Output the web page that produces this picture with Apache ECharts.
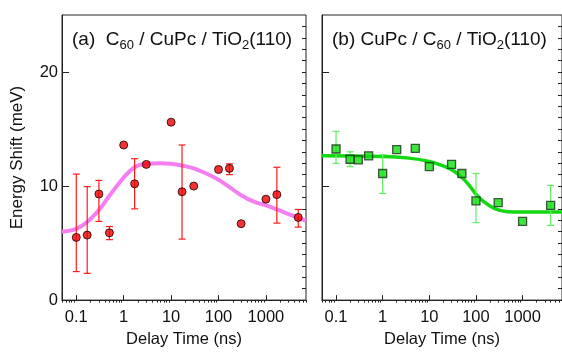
<!DOCTYPE html>
<html>
<head>
<meta charset="utf-8">
<script src="https://cdn.jsdelivr.net/npm/echarts@6/dist/echarts.min.js"></script>
<style>
  html, body { margin: 0; padding: 0; background: #fff; }
  #chart { width: 562px; height: 353px; }
</style>
</head>
<body>
<div id="chart"></div>
<script>
// panel (a): C60 / CuPc / TiO2(110)
const timeA  = [0.1, 0.17, 0.3, 0.5, 1, 1.7, 3, 10, 17, 30, 100, 170, 300, 1000, 1700, 4800];
const shiftA = [5.5, 5.7, 9.3, 5.9, 13.6, 10.2, 11.9, 15.6, 9.5, 10.0, 11.45, 11.55, 6.7, 8.85, 9.25, 7.25];
const errLoA = [2.5, 2.35, 6.9, 5.3, null, 8.0, null, null, 5.35, null, null, 11.0, null, null, 6.75, 6.4];
const errHiA = [11.05, 9.95, 10.5, 6.45, null, 12.4, null, null, 13.6, null, null, 11.95, null, null, 11.65, 7.95];
const fitTimeA = [0.05, 0.1, 0.17, 0.3, 0.5, 1, 1.7, 3, 5.7, 10, 17, 30, 55, 100, 170, 300, 540, 1000, 1700, 3200, 5300, 7000];
const fitA     = [6.0, 6.25, 6.85, 7.9, 9.15, 10.75, 11.65, 11.95, 12.0, 11.95, 11.8, 11.55, 11.1, 10.55, 9.9, 9.2, 8.65, 8.3, 7.95, 7.5, 7.15, 6.95];

// panel (b): CuPc / C60 / TiO2(110)
const timeB  = [0.1, 0.2, 0.3, 0.5, 1, 2, 5, 10, 30, 50, 100, 300, 1000, 4000];
const shiftB = [13.25, 12.35, 12.3, 12.65, 11.1, 13.2, 13.3, 11.7, 11.9, 11.1, 8.7, 8.55, 6.9, 8.3];
const errLoB = [12.0, 11.7, null, null, 9.35, null, null, null, null, null, 6.8, null, null, 6.55];
const errHiB = [14.8, 13.0, null, null, 12.75, null, null, null, null, null, 11.1, null, null, 10.05];
const fitTimeB = [0.05, 1, 3.7, 10, 19, 31, 50, 69, 100, 150, 245, 470, 1000, 7000];
const fitB     = [12.65, 12.6, 12.45, 12.15, 11.8, 11.4, 10.75, 10.15, 9.3, 8.6, 8.05, 7.75, 7.72, 7.72];

const xTickLabels = [0.1, 1, 10, 100, 1000];
const yTickLabels = [0, 10, 20];

const minorX = [];
[0.01, 0.1, 1, 10, 100, 1000].forEach(d => {
  for (let k = 2; k <= 9; k++) {
    const v = +(k * d).toPrecision(3);
    if (v >= 0.05 && v <= 7000) minorX.push(v);
  }
});
const minorY = [];
for (let v = 1; v < 25; v++) minorY.push(v);

const FONT = "'Liberation Sans', Arial, sans-serif";
const AXIS_COLOR = '#222';

const chart = echarts.init(document.getElementById('chart'));

function xAxes(gridIndex) {
  return [
    {
      type: 'log', gridIndex, min: 0.05, max: 7000, logBase: 10,
      axisLine: { lineStyle: { color: AXIS_COLOR, width: 1 } },
      axisTick: { inside: true, length: 5, lineStyle: { color: AXIS_COLOR }, customValues: xTickLabels },
      axisLabel: { color: '#111', fontSize: 16.5, fontFamily: FONT, margin: 9, customValues: xTickLabels,
        formatter: v => String(v) },
      splitLine: { show: false },
      name: 'Delay Time (ns)', nameLocation: 'middle', nameGap: 28,
      nameTextStyle: { color: '#111', fontSize: 16.5, fontFamily: FONT }
    },
    {
      type: 'log', gridIndex, min: 0.05, max: 7000, logBase: 10,
      axisLine: { show: false },
      axisTick: { inside: true, length: 2.5, lineStyle: { color: AXIS_COLOR }, customValues: minorX },
      axisLabel: { show: false },
      splitLine: { show: false }
    }
  ];
}

function yAxes(gridIndex, showLabels) {
  return [
    {
      type: 'value', gridIndex, min: 0, max: 25, interval: 1,
      axisLine: { show: true, lineStyle: { color: AXIS_COLOR, width: 1 } },
      axisTick: { inside: true, length: 7, lineStyle: { color: AXIS_COLOR }, customValues: yTickLabels },
      axisLabel: { show: showLabels, color: '#111', fontSize: 16.5, fontFamily: FONT, margin: 4, customValues: yTickLabels },
      splitLine: { show: false },
      name: showLabels ? 'Energy Shift (meV)' : '', nameLocation: 'middle', nameGap: 36,
      nameTextStyle: { color: '#111', fontSize: 17, fontFamily: FONT }
    },
    {
      type: 'value', gridIndex, min: 0, max: 25, interval: 1,
      axisLine: { show: false },
      axisTick: { inside: true, length: 4, lineStyle: { color: AXIS_COLOR }, customValues: minorY },
      axisLabel: { show: false },
      splitLine: { show: false }
    }
  ];
}

function errorData(t, lo, hi) {
  const out = [];
  t.forEach((x, i) => { if (lo[i] != null) out.push([x, lo[i], hi[i]]); });
  return out;
}

function errorSeries(xAxisIndex, yAxisIndex, data, color) {
  return {
    type: 'custom', xAxisIndex, yAxisIndex, data, z: 3,
    encode: { x: 0, y: [1, 2] },
    renderItem: (params, api) => {
      const x = api.value(0);
      const lo = api.coord([x, api.value(1)]);
      const hi = api.coord([x, api.value(2)]);
      const w = 3.5;
      const style = { stroke: color, lineWidth: 1.2 };
      return {
        type: 'group',
        children: [
          { type: 'line', shape: { x1: lo[0], y1: lo[1], x2: hi[0], y2: hi[1] }, style },
          { type: 'line', shape: { x1: lo[0] - w, y1: lo[1], x2: lo[0] + w, y2: lo[1] }, style },
          { type: 'line', shape: { x1: hi[0] - w, y1: hi[1], x2: hi[0] + w, y2: hi[1] }, style }
        ]
      };
    }
  };
}

const zip = (a, b) => a.map((v, i) => [v, b[i]]);

const titleStyle = {
  fontSize: 19, fontWeight: 'normal', color: '#111', fontFamily: FONT, lineHeight: 24,
  rich: { sub: { fontSize: 13, fontFamily: FONT, color: '#111', lineHeight: 12, verticalAlign: 'bottom' } }
};

chart.setOption({
  animation: false,
  backgroundColor: '#fff',
  grid: [
    { left: 62, top: 15, width: 244, height: 292, show: true, borderColor: AXIS_COLOR, borderWidth: 1, backgroundColor: 'transparent' },
    { left: 322, top: 15, width: 244, height: 292, show: true, borderColor: AXIS_COLOR, borderWidth: 1, backgroundColor: 'transparent' }
  ],
  title: [
    { left: 67, top: 23, text: '(a)  C{sub|60} / CuPc / TiO{sub|2}(110)', textStyle: titleStyle },
    { left: 327, top: 23, text: '(b) CuPc / C{sub|60} / TiO{sub|2}(110)', textStyle: titleStyle }
  ],
  xAxis: [...xAxes(0), ...xAxes(1)],
  yAxis: [...yAxes(0, true), ...yAxes(1, false)],
  series: [
    {
      type: 'line', xAxisIndex: 0, yAxisIndex: 0, data: zip(fitTimeA, fitA),
      smooth: 0.4, showSymbol: false, z: 2,
      lineStyle: { color: '#f47ef2', width: 4 }
    },
    errorSeries(0, 0, errorData(timeA, errLoA, errHiA), '#ff1a1a'),
    {
      type: 'scatter', xAxisIndex: 0, yAxisIndex: 0, data: zip(timeA, shiftA),
      symbol: 'circle', symbolSize: 8, z: 4,
      itemStyle: { color: '#f00000', borderColor: '#1a0000', borderWidth: 1 }
    },
    {
      type: 'line', xAxisIndex: 2, yAxisIndex: 2, data: zip(fitTimeB, fitB),
      smooth: 0.4, showSymbol: false, z: 2,
      lineStyle: { color: '#12d812', width: 3.5 }
    },
    errorSeries(2, 2, errorData(timeB, errLoB, errHiB), '#5cf05c'),
    {
      type: 'scatter', xAxisIndex: 2, yAxisIndex: 2, data: zip(timeB, shiftB),
      symbol: 'rect', symbolSize: 8, z: 4,
      itemStyle: { color: '#0ee00e', borderColor: '#1c301c', borderWidth: 1.3 }
    }
  ]
});
</script>
</body>
</html>
